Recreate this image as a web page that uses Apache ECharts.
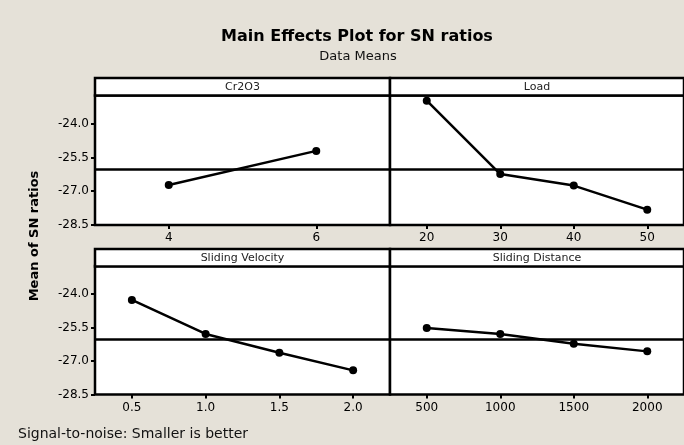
<!DOCTYPE html>
<html>
<head>
<meta charset="utf-8">
<script src="https://cdn.jsdelivr.net/npm/echarts@6/dist/echarts.min.js"></script>
<style>
html,body{margin:0;padding:0;background:#e5e1d8;}
#chart{width:684px;height:445px;}
</style>
</head>
<body>
<div id="chart"></div>
<script>
// ---- data ----
const factorNames = ['Cr2O3', 'Load', 'Sliding Velocity', 'Sliding Distance'];
const cr2o3Levels = ['4', '6'];
const cr2o3SN = [-26.72, -25.21];
const loadLevels = ['20', '30', '40', '50'];
const loadSN = [-22.98, -26.24, -26.75, -27.82];
const velocityLevels = ['0.5', '1.0', '1.5', '2.0'];
const velocitySN = [-24.27, -25.79, -26.63, -27.42];
const distanceLevels = ['500', '1000', '1500', '2000'];
const distanceSN = [-25.52, -25.79, -26.23, -26.57];
const overallMean = [-26.03];
const yTickValues = [-28.5, -27.0, -25.5, -24.0];

// ---- layout ----
const colLeft = [95, 390];
const colWidth = [295, 294];
const stripTop = [78, 249];
const stripH = 17.5;
const plotTop = [95.5, 266];
const plotH = [129.5, 128.5];
const FONT = 'DejaVu Sans';

const panels = [
  {levels: cr2o3Levels, values: cr2o3SN, col: 0, row: 0},
  {levels: loadLevels, values: loadSN, col: 1, row: 0},
  {levels: velocityLevels, values: velocitySN, col: 0, row: 1},
  {levels: distanceLevels, values: distanceSN, col: 1, row: 1}
];

const grid = [], xAxis = [], yAxis = [], series = [], graphic = [];
panels.forEach((p, i) => {
  grid.push({
    left: colLeft[p.col], top: plotTop[p.row], width: colWidth[p.col], height: plotH[p.row],
    show: true, backgroundColor: '#fff', borderColor: '#000', borderWidth: 2.5, containLabel: false
  });
  xAxis.push({
    gridIndex: i, type: 'category', data: p.levels, boundaryGap: true,
    axisLine: {show: false},
    axisTick: {show: true, alignWithLabel: true, inside: false, length: 4, lineStyle: {color: '#000', width: 2}},
    axisLabel: {color: '#000', fontFamily: FONT, fontSize: 12, margin: 7},
    splitLine: {show: false}
  });
  const showY = p.col === 0;
  yAxis.push({
    gridIndex: i, type: 'value', min: -28.5, max: -22.75, interval: 1.5,
    axisLine: {show: false},
    axisTick: {show: showY, inside: false, length: 4, customValues: yTickValues, lineStyle: {color: '#000', width: 2}},
    axisLabel: {show: showY, customValues: yTickValues, color: '#000', fontFamily: FONT, fontSize: 12, margin: 6,
      formatter: v => v.toFixed(1)},
    splitLine: {show: false}
  });
  series.push({
    type: 'line', xAxisIndex: i, yAxisIndex: i, data: p.values,
    symbol: 'circle', symbolSize: 8,
    itemStyle: {color: '#000'}, lineStyle: {color: '#000', width: 2.5},
    markLine: {
      silent: true, symbol: 'none', label: {show: false},
      lineStyle: {color: '#000', width: 2.5, type: 'solid'},
      data: [{yAxis: overallMean[0]}]
    },
    z: 3
  });
  graphic.push({
    type: 'rect',
    shape: {x: colLeft[p.col], y: stripTop[p.row], width: colWidth[p.col], height: stripH},
    style: {fill: '#fff', stroke: '#000', lineWidth: 2.5}, z: 10
  });
  graphic.push({
    type: 'text',
    x: colLeft[p.col] + colWidth[p.col] / 2, y: stripTop[p.row] + stripH / 2 + 0.5,
    style: {text: factorNames[i], fill: '#222', font: '11px "' + FONT + '"', align: 'center', verticalAlign: 'middle'},
    z: 11
  });
});

graphic.push({
  type: 'text', x: 357, y: 37,
  style: {text: 'Main Effects Plot for SN ratios', fill: '#000', font: 'bold 16px "' + FONT + '"', align: 'center', verticalAlign: 'middle'}
});
graphic.push({
  type: 'text', x: 358, y: 57,
  style: {text: 'Data Means', fill: '#111', font: '13px "' + FONT + '"', align: 'center', verticalAlign: 'middle'}
});
graphic.push({
  type: 'text', x: 35, y: 236, rotation: Math.PI / 2,
  style: {text: 'Mean of SN ratios', fill: '#000', font: 'bold 13px "' + FONT + '"', align: 'center', verticalAlign: 'middle'}
});
graphic.push({
  type: 'text', x: 18, y: 434,
  style: {text: 'Signal-to-noise: Smaller is better', fill: '#111', font: '14px "' + FONT + '"', align: 'left', verticalAlign: 'middle'}
});

const chart = echarts.init(document.getElementById('chart'), null, {renderer: 'canvas'});
chart.setOption({
  backgroundColor: '#e5e1d8',
  animation: false,
  grid, xAxis, yAxis, series, graphic
});
</script>
</body>
</html>
